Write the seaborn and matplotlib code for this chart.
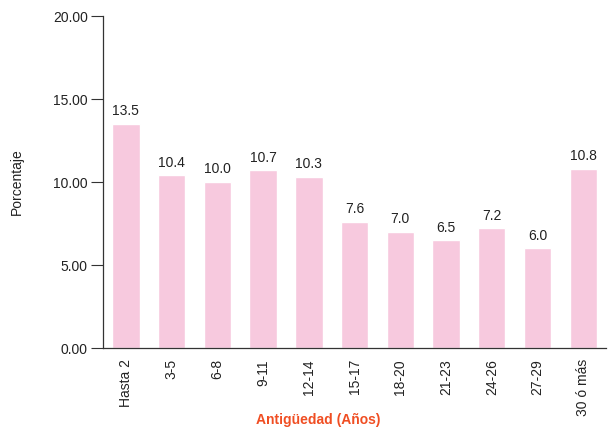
import numpy as np
import pandas as pd
import seaborn as sns
import matplotlib
matplotlib.use('Agg')
import matplotlib.pyplot as plt

categories = ["Hasta 2", "3-5", "6-8", "9-11", "12-14", "15-17",
              "18-20", "21-23", "24-26", "27-29", "30 ó más"]
porcentaje = [13.5, 10.4, 10.0, 10.7, 10.3, 7.6, 7.0, 6.5, 7.2, 6.0, 10.8]
y_ticks = [0, 5, 10, 15, 20]

sns.set_theme(style="white", rc={"axes.spines.right": False, "axes.spines.top": False})
plt.rcParams['font.family'] = ['Liberation Sans', 'DejaVu Sans']

df = pd.DataFrame({"antiguedad": categories, "porcentaje": porcentaje})

fig = plt.figure(figsize=(6.11, 4.29), dpi=100)
ax = fig.add_axes([0.1686, 0.1888, 0.8234, 0.7739])

sns.barplot(data=df, x="antiguedad", y="porcentaje", color="#f7c9de",
            saturation=1, width=0.6, errorbar=None, ax=ax)

for container in ax.containers:
    ax.bar_label(container, fmt='%.1f', padding=4, fontsize=10, color='#222222')

ax.set_xlim(-0.5, 10.5)
ax.set_ylim(0, 20)
ax.set_yticks(y_ticks)
ax.set_yticklabels([f"{v:.2f}" for v in y_ticks], fontsize=10, color='#222222')
ax.tick_params(axis='y', left=True, length=9, width=0.8, color='#333333', pad=2)
ax.tick_params(axis='x', bottom=False, labelsize=10, labelcolor='#222222', pad=2)
plt.setp(ax.get_xticklabels(), rotation=90)

for side in ['left', 'bottom']:
    ax.spines[side].set_color('#333333')
    ax.spines[side].set_linewidth(0.9)

ax.set_ylabel("Porcentaje", fontsize=10, color='#222222', va='center')
ax.yaxis.set_label_coords(-0.171, 0.5)
ax.set_xlabel("Antigüedad (Años)", fontsize=10, color='#f04e23',
              fontweight='bold', va='center')
ax.xaxis.set_label_coords(0.427, -0.217)

plt.savefig("out.png", dpi=100)
